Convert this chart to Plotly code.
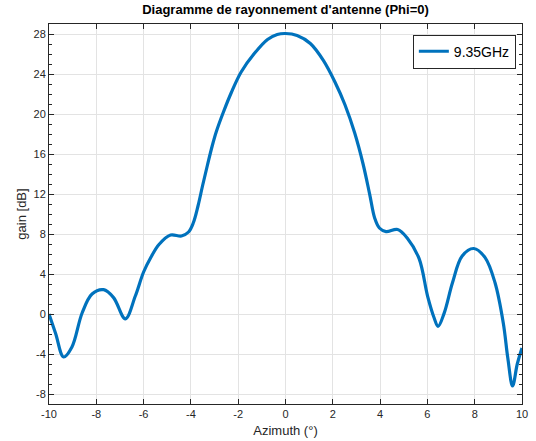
import plotly.graph_objects as go

azimuth = [-10.0, -9.72, -9.38, -9.03, -8.6, -8.18, -7.69, -7.27, -6.77, -6.35, -6.0,
           -5.69, -5.35, -4.86, -4.4, -4.1, -3.9, -3.7, -3.5, -3.3, -3.1,
           -2.92, -2.64, -2.29, -1.875, -1.32, -0.76, -0.35, 0.0, 0.49, 1.05, 1.6,
           2.09, 2.51, 2.93, 3.28, 3.56, 3.77, 3.97, 4.25, 4.74, 5.16, 5.65, 6.01,
           6.29, 6.45, 6.71, 7.06, 7.47, 7.96, 8.44, 8.86, 9.21, 9.4, 9.6, 9.8, 10.0]
gain = [0.0, -1.95, -4.3, -3.3, 0.1, 2.0, 2.43, 1.64, -0.48, 1.8, 4.2,
        5.67, 6.95, 7.9, 7.8, 8.2, 9.1, 10.8, 12.9, 14.9, 16.8,
        18.27, 20.1, 22.15, 24.2, 26.04, 27.45, 27.95, 28.05, 27.85, 27.05, 25.36,
        23.2, 20.95, 18.07, 15.0, 11.97, 9.6, 8.6, 8.24, 8.45, 7.56, 5.53, 1.77,
        -0.42, -1.25, 0.09, 3.12, 5.8, 6.55, 5.64, 3.12, -0.92, -4.4, -7.2, -5.0, -3.4]

xticks = [-10, -8, -6, -4, -2, 0, 2, 4, 6, 8, 10]
yticks = [-8, -4, 0, 4, 8, 12, 16, 20, 24, 28]

axis_col = "#262626"
grid_col = "#e3e3e3"

fig = go.Figure()
fig.add_trace(go.Scatter(
    x=azimuth, y=gain, mode="lines", name="9.35GHz",
    line=dict(color="#0072BD", width=3.2, shape="spline", smoothing=1.0),
))

fig.update_layout(
    width=536, height=441,
    margin=dict(l=49, r=14, t=24, b=37),
    paper_bgcolor="white", plot_bgcolor="white",
    font=dict(family="Liberation Sans, Arial, sans-serif", color=axis_col, size=11),
    title=dict(text="<b>Diagramme de rayonnement d'antenne (Phi=0)</b>",
               x=0.5, xref="paper", xanchor="center",
               y=1, yref="container", yanchor="top", pad=dict(t=5),
               font=dict(size=13, color="#000000")),
    showlegend=True,
    legend=dict(x=0.987, y=0.972, xanchor="right", yanchor="top",
                bgcolor="white", bordercolor=axis_col, borderwidth=1,
                font=dict(size=14, color="#000000")),
)
fig.update_xaxes(
    range=[-10, 10], tickvals=xticks, ticktext=[str(v) for v in xticks],
    showgrid=True, gridcolor=grid_col, gridwidth=1, zeroline=False,
    showline=True, linecolor=axis_col, linewidth=1, mirror="ticks",
    ticks="inside", ticklen=5, tickcolor=axis_col, automargin=False,
    tickfont=dict(size=11, color=axis_col),
    title=dict(text="Azimuth (°)", font=dict(size=13, color=axis_col), standoff=6),
)
fig.update_yaxes(
    range=[-9, 29], tickvals=yticks, ticktext=[str(v) for v in yticks],
    showgrid=True, gridcolor=grid_col, gridwidth=1, zeroline=False,
    showline=True, linecolor=axis_col, linewidth=1, mirror="ticks",
    ticks="inside", ticklen=5, tickcolor=axis_col, automargin=False,
    tickfont=dict(size=11, color=axis_col),
    minor=dict(dtick=1, ticks="inside", ticklen=3, tickcolor=axis_col, showgrid=False),
    title=dict(text="gain [dB]", font=dict(size=13, color=axis_col), standoff=3),
)

fig.write_html(
    "out.html",
    config={"displayModeBar": False},
    post_script="document.body.style.margin='0';document.body.style.overflow='hidden';",
)
